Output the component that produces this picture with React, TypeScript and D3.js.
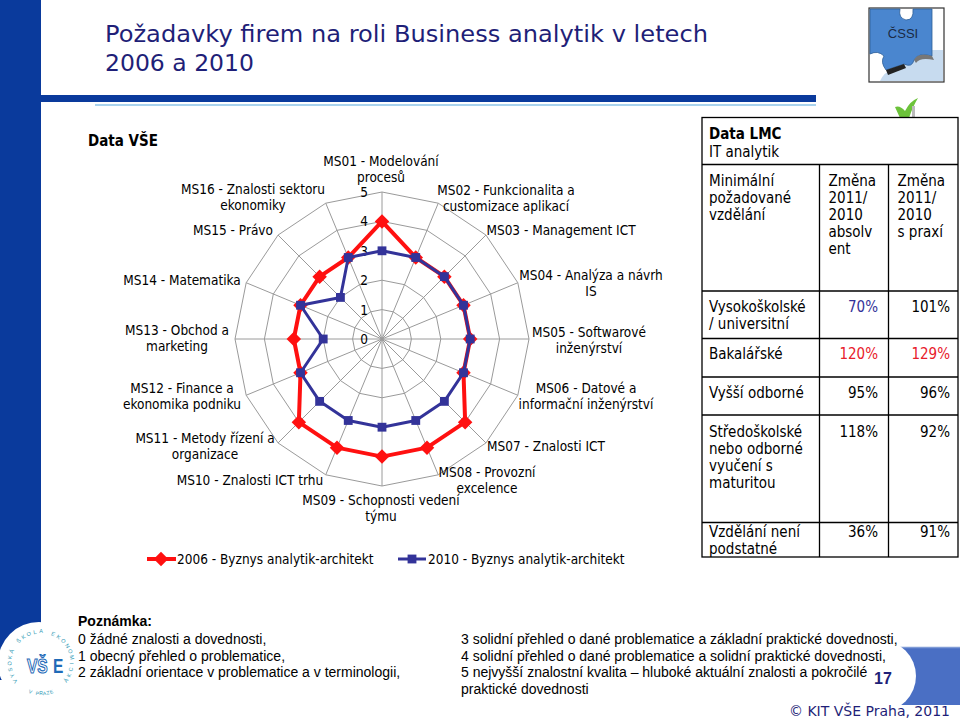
import React from "react";
import * as d3 from "d3";

// ---------------- DATA ----------------
const categories = [
  "MS01 - Modelování\nprocesů",
  "MS02 - Funkcionalita a\ncustomizace aplikací",
  "MS03 - Management ICT",
  "MS04 - Analýza a návrh\nIS",
  "MS05 - Softwarové\ninženýrství",
  "MS06 - Datové a\ninformační inženýrství",
  "MS07 - Znalosti ICT",
  "MS08 - Provozní\nexcelence",
  "MS09 - Schopnosti vedení\ntýmu",
  "MS10 - Znalosti ICT trhu",
  "MS11 - Metody řízení a\norganizace",
  "MS12 - Finance a\nekonomika podniku",
  "MS13 - Obchod a\nmarketing",
  "MS14 - Matematika",
  "MS15 - Právo",
  "MS16 - Znalosti sektoru\nekonomiky",
];
const values2006 = [4, 3, 3, 3, 3, 3, 4, 4, 4, 4, 4, 3, 3, 3, 3, 3];
const values2010 = [3, 3, 3, 3, 3, 3, 3, 3, 3, 3, 3, 3, 2, 3, 2, 3];
const radarTicks = [0, 1, 2, 3, 4, 5];
const seriesNames = ["2006 - Byznys analytik-architekt", "2010 - Byznys analytik-architekt"];

const tableTitle = "Data LMC";
const tableSubtitle = "IT analytik";
const tableHeaders = [
  "Minimální\npožadované\nvzdělání",
  "Změna\n2011/\n2010\nabsolv\nent",
  "Změna\n2011/\n2010\ns praxí",
];
const eduLevels = [
  "Vysokoškolské\n/ universitní",
  "Bakalářské",
  "Vyšší odborné",
  "Středoškolské\nnebo odborné\nvyučení s\nmaturitou",
  "Vzdělání není\npodstatné",
];
const changeGraduate = ["70%", "120%", "95%", "118%", "36%"];
const changeExperienced = ["101%", "129%", "96%", "92%", "91%"];

const notesLeft = [
  "0 žádné znalosti a dovednosti,",
  "1 obecný přehled o problematice,",
  "2 základní orientace v problematice a v terminologii,",
];
const notesRight = [
  "3 solidní přehled o dané problematice a základní praktické dovednosti,",
  "4 solidní přehled o dané problematice a solidní praktické dovednosti,",
  "5 nejvyšší znalostní kvalita – hluboké aktuální znalosti a pokročilé",
  "praktické dovednosti",
];

// ---------------- LAYOUT ----------------
const FONT = "'DejaVu Sans Condensed', 'DejaVu Sans', sans-serif";
const ARIAL = "'Liberation Sans', Arial, sans-serif";
const NAVY = "#1f1f78";
const RED = "#ff1010";
const BLUE = "#333399";

const cx = 382;
const cy = 339;
const R = 147;

// label anchor points (center x, first baseline y)
const labelPos: [number, number][] = [
  [381, 166], [506, 195], [561, 235], [591, 280], [589, 337], [586, 393],
  [546, 451], [487, 477], [381, 505], [250, 485], [205, 443], [182, 393],
  [177, 335], [182, 285], [233, 235], [253, 194],
];

const tableRows = [164.5, 291, 338.5, 377, 415, 522.5, 557];
const rowBaseOffset = [21, 20, 21, 21.5, 14];

function RingText({ text, cx0, cy0, rad, a0, a1, size }: { text: string; cx0: number; cy0: number; rad: number; a0: number; a1: number; size: number }) {
  const chars = text.split("");
  const step = (a1 - a0) / Math.max(1, chars.length - 1);
  return (
    <g>
      {chars.map((ch, i) => {
        const a = a0 + i * step; // degrees, 0 = top, clockwise
        const rad2 = (a * Math.PI) / 180;
        const x = cx0 + rad * Math.sin(rad2);
        const y = cy0 - rad * Math.cos(rad2);
        const rot = a > 90 && a < 270 ? a + 180 : a;
        return (
          <text key={i} x={x} y={y} transform={`rotate(${rot},${x},${y})`} fontFamily={ARIAL} fontSize={size} fill="#2d98b4" textAnchor="middle" dominantBaseline="middle">
            {ch}
          </text>
        );
      })}
    </g>
  );
}

export default function App() {
  const n = categories.length;
  const r = d3.scaleLinear().domain([0, 5]).range([0, R]);
  const angle = d3.scaleLinear().domain([0, n]).range([0, 2 * Math.PI]);
  const pt = (i: number, v: number): [number, number] => [
    cx + r(v) * Math.sin(angle(i)),
    cy - r(v) * Math.cos(angle(i)),
  ];
  const radial = d3
    .lineRadial<number>()
    .angle((_d, i) => angle(i))
    .radius((d) => r(d))
    .curve(d3.curveLinearClosed);

  const diamond = d3.symbol(d3.symbolSquare, 105)();
  const square = d3.symbol(d3.symbolSquare, 78)();

  const colX = [702, 819.5, 888.5, 958];

  return (
    <div style={{ position: "absolute", left: 0, top: 0 }}>
      <svg width={960} height={720} style={{ display: "block", background: "#fff" }}>
        {/* slide decoration */}
        <rect x={0} y={0} width={41} height={680} fill="#0a3a9c" />
        <rect x={41} y={95} width={775} height={7} fill="#0a3a9c" />
        <rect x={95} y={104} width={721} height={2} fill="#a9d3ee" />
        <text x={105} y={42} fontFamily="'DejaVu Sans', sans-serif" fontSize={23.5} fill={NAVY} textLength={603} lengthAdjust="spacingAndGlyphs">
          Požadavky firem na roli Business analytik v letech
        </text>
        <text x={105} y={71} fontFamily="'DejaVu Sans', sans-serif" fontSize={23.5} fill={NAVY}>
          2006 a 2010
        </text>

        {/* ČSSI logo */}
        <g>
          <rect x={869} y={8} width={75} height={74} fill="#fff" stroke="#333" strokeWidth={1.2} />
          <path d="M905,50 L943,50 L943,81 L880,81 Q884,72 892,70 Q898,62 905,60 Z" fill="#c7dbef" />
          <path d="M870,9 L900,9 Q898,18 906,20 Q914,20 913,9 L932,9 L932,56 Q918,52 914,60 Q912,68 904,64 L886,70 Q880,62 884,56 Q878,50 870,54 Z" fill="#4a86cf" stroke="#2e5f98" strokeWidth={0.8} />
          <path d="M886,70 L904,64 L906,68 L888,75 Z" fill="#222" />
          <path d="M932,56 Q918,52 914,60 L916,63 Q920,57 934,60 Z" fill="#777" />
          <text x={903} y={38} fontFamily={ARIAL} fontSize={13} fill="#1a2a44" textAnchor="middle">ČSSI</text>
          <path d="M895,107 Q900,105 905,111 Q910,101 918,98 Q913,106 909,118 L900,118 Z" fill="#6cc23a" />
          <rect x={912} y={106} width={3} height={12} fill="#bbb" />
        </g>

        {/* VŠE logo bottom left */}
        <g>
          <circle cx={39} cy={663} r={41} fill="#fff" />
          <RingText text="VYSOKÁ ŠKOLA EKONOMICKÁ" cx0={41} cy0={663} rad={31} a0={-125} a1={125} size={5.5} />
          <RingText text="V PRAZE" cx0={41} cy0={663} rad={31} a0={200} a1={160} size={5} />
          <text transform="translate(27,673) scale(1,1.35)" fontFamily={ARIAL} fontSize={15.5} fontWeight="bold" fill="#fff" stroke="#1f6bb8" strokeWidth={0.9}>VŠ</text>
          <text transform="translate(53,673) scale(1,1.35)" fontFamily={ARIAL} fontSize={15.5} fontWeight="bold" fill="#1f6bb8">E</text>
        </g>

        {/* page number shape */}
        <g>
          <rect x={893} y={647} width={67} height={58} fill="#4a6fc4" />
          <line x1={866} x2={960} y1={647.5} y2={647.5} stroke="#7f9bd6" strokeWidth={1.5} />
          <circle cx={880} cy={676} r={36} fill="#fff" />
          <text x={883} y={684} fontFamily={ARIAL} fontSize={16} fontWeight="bold" fill={NAVY} textAnchor="middle">17</text>
        </g>
        <text x={950} y={716} fontFamily="'DejaVu Sans', sans-serif" fontSize={14} fill={NAVY} textAnchor="end">
          © KIT VŠE Praha, 2011
        </text>

        {/* Data VŠE heading */}
        <text x={88} y={146} fontFamily={FONT} fontSize={15} fontWeight="bold" fill="#000">Data VŠE</text>

        {/* radar grid */}
        <g>
          {radarTicks.slice(1).map((t) => (
            <path key={t} d={radial(d3.range(n).map(() => t)) || ""} transform={`translate(${cx},${cy})`} fill="none" stroke="#9a9a9a" strokeWidth={1} />
          ))}
          {d3.range(n).map((i) => {
            const [x, y] = pt(i, 5);
            return <line key={i} x1={cx} y1={cy} x2={x} y2={y} stroke="#9a9a9a" strokeWidth={1} />;
          })}
          {radarTicks.map((t) => (
            <text key={t} x={cx - 14} y={cy - r(t) + 5} fontFamily={FONT} fontSize={13.5} textAnchor="end" fill="#000">
              {t}
            </text>
          ))}
        </g>

        {/* category labels */}
        {categories.map((c, i) => (
          <text key={i} fontFamily={FONT} fontSize={13.5} fill="#000" textAnchor="middle">
            {c.split("\n").map((line, j) => (
              <tspan key={j} x={labelPos[i][0]} y={labelPos[i][1] + j * 15.5}>
                {line}
              </tspan>
            ))}
          </text>
        ))}

        {/* series */}
        <path d={radial(values2006) || ""} transform={`translate(${cx},${cy})`} fill="none" stroke={RED} strokeWidth={4} strokeLinejoin="round" />
        {values2006.map((v, i) => {
          const [x, y] = pt(i, v);
          return <path key={i} d={diamond || ""} transform={`translate(${x},${y}) rotate(45)`} fill={RED} />;
        })}
        <path d={radial(values2010) || ""} transform={`translate(${cx},${cy})`} fill="none" stroke={BLUE} strokeWidth={3} strokeLinejoin="round" />
        {values2010.map((v, i) => {
          const [x, y] = pt(i, v);
          return <path key={i} d={square || ""} transform={`translate(${x},${y})`} fill={BLUE} />;
        })}

        {/* legend */}
        <g fontFamily={FONT} fontSize={13.5} fill="#000">
          <line x1={147} x2={176} y1={559} y2={559} stroke={RED} strokeWidth={4} />
          <path d={diamond || ""} transform="translate(161,559) rotate(45)" fill={RED} />
          <text x={177} y={564}>{seriesNames[0]}</text>
          <line x1={398} x2={426} y1={559} y2={559} stroke={BLUE} strokeWidth={3} />
          <path d={square || ""} transform="translate(412,559)" fill={BLUE} />
          <text x={428} y={564}>{seriesNames[1]}</text>
        </g>

        {/* table */}
        <g fontFamily={FONT} fontSize={15} fill="#000">
          <rect x={702} y={117.5} width={256} height={439.5} fill="#fff" stroke="#000" strokeWidth={1.3} />
          {tableRows.slice(0, -1).map((y) => (
            <line key={y} x1={702} x2={958} y1={y} y2={y} stroke="#000" strokeWidth={1.3} />
          ))}
          {[colX[1], colX[2]].map((x) => (
            <line key={x} x1={x} x2={x} y1={tableRows[0]} y2={tableRows[tableRows.length - 1]} stroke="#000" strokeWidth={1.3} />
          ))}
          <text x={709} y={139} fontWeight="bold">{tableTitle}</text>
          <text x={709} y={157}>{tableSubtitle}</text>
          {tableHeaders.map((h, k) => (
            <text key={k}>
              {h.split("\n").map((line, j) => (
                <tspan key={j} x={colX[k] + (k === 0 ? 7 : 9)} y={186 + j * 17}>{line}</tspan>
              ))}
            </text>
          ))}
          {eduLevels.map((e, i) => {
            const y0 = tableRows[i + 1] + rowBaseOffset[i];
            const c1 = i === 0 ? BLUE : i === 1 ? "#e8202a" : "#000";
            const c2 = i === 1 ? "#e8202a" : "#000";
            return (
              <g key={i}>
                <text>
                  {e.split("\n").map((line, j) => (
                    <tspan key={j} x={709} y={y0 + j * 17}>{line}</tspan>
                  ))}
                </text>
                <text x={878} y={y0} textAnchor="end" fill={c1}>{changeGraduate[i]}</text>
                <text x={950} y={y0} textAnchor="end" fill={c2}>{changeExperienced[i]}</text>
              </g>
            );
          })}
        </g>

        {/* notes */}
        <g fontFamily={ARIAL} fontSize={14} fill="#000">
          <text x={78} y={626} fontWeight="bold">Poznámka:</text>
          {notesLeft.map((t, i) => (
            <text key={i} x={78} y={644 + i * 16.7}>{t}</text>
          ))}
          {notesRight.map((t, i) => (
            <text key={i} x={461} y={644 + i * 16.7}>{t}</text>
          ))}
        </g>
      </svg>
    </div>
  );
}
